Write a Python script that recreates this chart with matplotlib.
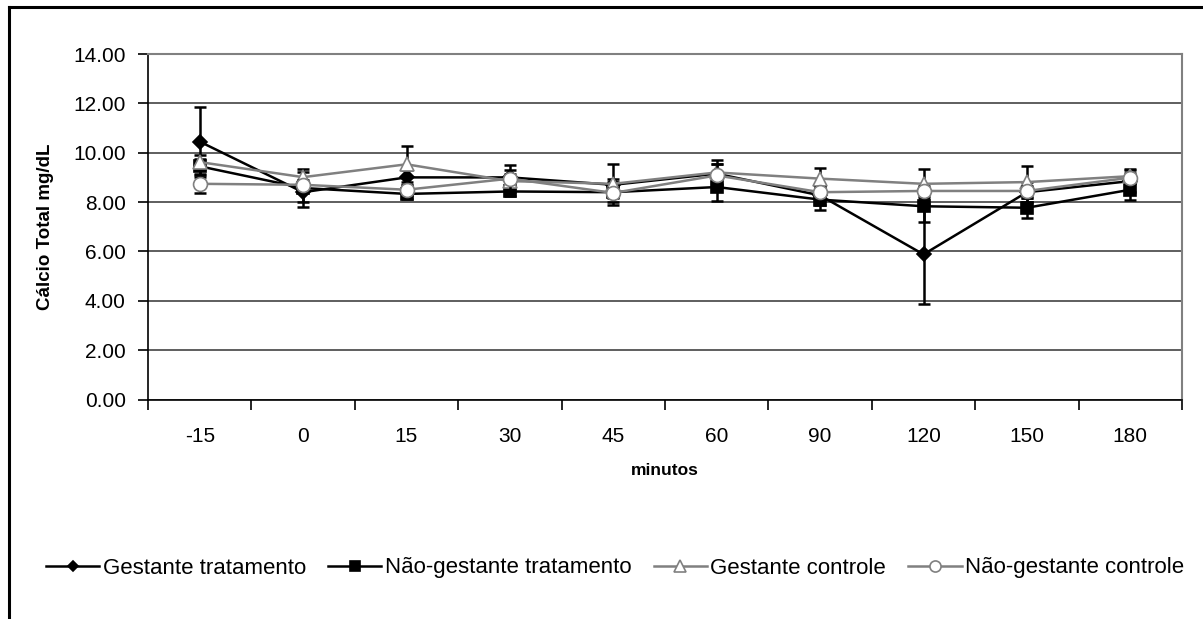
import numpy as np
import matplotlib
matplotlib.use("Agg")
import matplotlib.pyplot as plt
from matplotlib.lines import Line2D

plt.rcParams['font.family'] = ['Liberation Sans', 'DejaVu Sans']

minutos = ["-15", "0", "15", "30", "45", "60", "90", "120", "150", "180"]

gest_trat = [10.45, 8.40, 9.00, 9.00, 8.70, 9.15, 8.27, 5.88, 8.40, 8.85]
gest_trat_sd = [1.42, 0.40, 0.30, 0.30, 0.83, 0.40, 0.40, 2.03, 0.40, 0.45]

nao_gest_trat = [9.45, 8.57, 8.33, 8.43, 8.40, 8.61, 8.10, 7.83, 7.77, 8.50]
nao_gest_trat_sd = [0.30, 0.75, 0.20, 0.20, 0.40, 0.58, 0.44, 0.64, 0.40, 0.43]

gest_ctrl = [9.62, 9.01, 9.53, 8.85, 8.74, 9.20, 8.95, 8.74, 8.81, 9.05]
gest_ctrl_sd = [0.30, 0.20, 0.73, 0.30, 0.20, 0.50, 0.44, 0.58, 0.64, 0.27]

nao_gest_ctrl = [8.74, 8.70, 8.50, 8.95, 8.37, 9.08, 8.40, 8.45, 8.45, 8.99]
nao_gest_ctrl_sd = [0.37, 0.20, 0.20, 0.55, 0.20, 0.45, 0.20, 0.20, 0.20, 0.20]

W, H = 1203, 619
fig = plt.figure(figsize=(W / 100, H / 100), dpi=100)
ax = fig.add_axes([148 / W, 1 - 399.5 / H, 1034 / W, (399.5 - 54) / H])

# moldura externa (so topo e esquerda aparecem)
fig.add_artist(Line2D([9 / W, 1], [1 - 7 / H, 1 - 7 / H], color='black', lw=2.2, transform=fig.transFigure))
fig.add_artist(Line2D([9 / W, 9 / W], [0, 1 - 7 / H], color='black', lw=2.2, transform=fig.transFigure))

x = np.arange(len(minutos))
series = [
    (gest_trat, gest_trat_sd, 'Gestante tratamento', 'black', 'D', 'black', 'black', 7),
    (nao_gest_trat, nao_gest_trat_sd, 'Não-gestante tratamento', 'black', 's', 'black', 'black', 8.5),
    (gest_ctrl, gest_ctrl_sd, 'Gestante controle', '#808080', '^', 'white', '#808080', 10),
    (nao_gest_ctrl, nao_gest_ctrl_sd, 'Não-gestante controle', '#808080', 'o', 'white', '#808080', 10),
]

handles = []
for i, (vals, sd, lab, col, mk, fc, ec, ms) in enumerate(series):
    ax.errorbar(x, vals, yerr=sd, fmt='none', ecolor='black', elinewidth=1.8,
                capsize=4, capthick=1.8, zorder=3 + i * 2)
    ln, = ax.plot(x, vals, color=col, lw=1.8, marker=mk, markerfacecolor=fc,
                  markeredgecolor=ec, markersize=ms, markeredgewidth=1.2,
                  zorder=4 + i * 2, label=lab)
    handles.append(ln)

ax.set_xlim(-0.5, len(minutos) - 0.5)
ax.set_ylim(0, 14)
ax.set_yticks(np.arange(0, 14.01, 2))
ax.set_yticklabels([f"{v:.2f}" for v in np.arange(0, 14.01, 2)])
ax.set_xticks(x)
ax.set_xticklabels(minutos)
ax.set_xticks(np.arange(-0.5, len(minutos), 1), minor=True)
ax.tick_params(axis='x', which='major', length=0, pad=20, labelsize=15)
ax.tick_params(axis='x', which='minor', length=7, width=1.2, direction='out')
ax.tick_params(axis='y', length=7, width=1.2, direction='out', pad=9, labelsize=15)

ax.grid(axis='y', color='#333333', lw=1.1, zorder=0)
ax.set_axisbelow(True)
for s in ['top', 'right']:
    ax.spines[s].set_color('#808080')
    ax.spines[s].set_linewidth(1.5)
for s in ['left', 'bottom']:
    ax.spines[s].set_color('black')
    ax.spines[s].set_linewidth(1.2)

ax.set_ylabel("Cálcio Total mg/dL", fontsize=13.5, fontweight='bold', labelpad=14)
ax.set_xlabel("minutos", fontsize=12.5, fontweight='bold', labelpad=12)

fig.legend(handles=handles, loc='center', bbox_to_anchor=(615 / W, 1 - 568 / H),
           ncol=4, frameon=False, fontsize=16, handlelength=2.4, handletextpad=0.15,
           columnspacing=1.0, markerscale=0.8)

fig.savefig("out.png", dpi=100)
